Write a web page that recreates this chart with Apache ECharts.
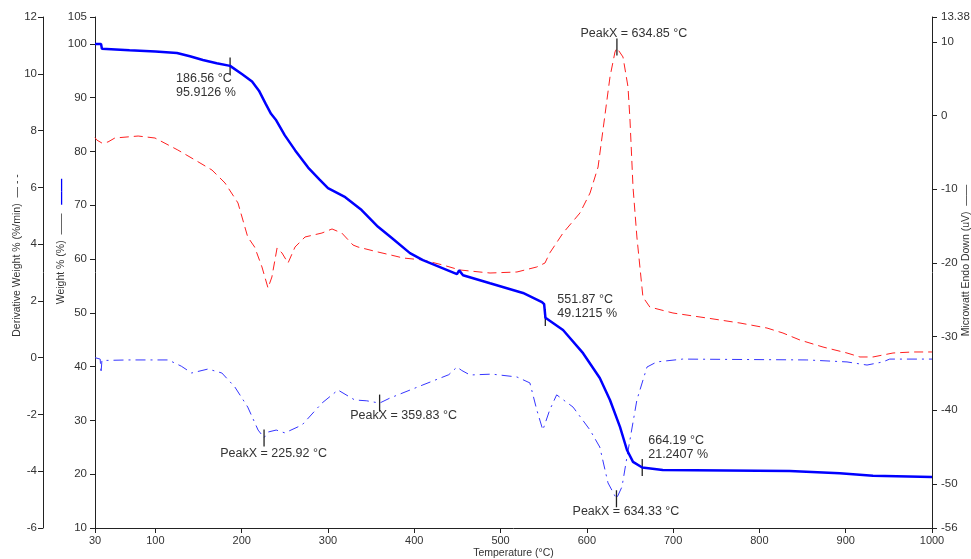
<!DOCTYPE html>
<html>
<head>
<meta charset="utf-8">
<script src="https://cdn.jsdelivr.net/npm/echarts@6/dist/echarts.min.js"></script>
<style>
  html, body { margin: 0; padding: 0; background: #fff; }
  #chart { width: 971px; height: 559px; }
</style>
</head>
<body>
<div id="chart"></div>
<script>
// tick labels
const xTicks = [30, 100, 200, 300, 400, 500, 600, 700, 800, 900, 1000];
const weightTicks = [10, 20, 30, 40, 50, 60, 70, 80, 90, 100, 105];
const derivTicks = [-6, -4, -2, 0, 2, 4, 6, 8, 10, 12];
const heatTicks = [-56, -50, -40, -30, -20, -10, 0, 10, 13.38];

// Weight % (solid blue)
const weightTemp = [30, 37, 38, 70, 100, 125, 140, 155, 171, 186.56, 201, 212, 220, 228, 234, 240, 250, 262, 277, 290, 300, 320, 339, 358, 374, 395, 410, 449.5, 452, 454, 456.5, 487.8, 526, 548, 550.5, 552, 572.4, 595.6, 615, 626.8, 638.4, 646.5, 653.5, 664.19, 688, 835, 893, 931.6, 1000];
const weightVal = [100, 100, 99.1, 98.8, 98.6, 98.3, 97.7, 97.0, 96.4, 95.91, 94.3, 93.0, 91.3, 88.8, 87.0, 85.8, 83.0, 80.2, 77.0, 74.8, 73.2, 71.5, 69.1, 66.0, 63.9, 61.1, 59.8, 57.2, 57.9, 57.7, 57.0, 55.5, 53.7, 52.0, 51.6, 49.1, 46.8, 42.5, 37.9, 33.8, 28.8, 24.5, 22.3, 21.24, 20.8, 20.6, 20.2, 19.7, 19.5];

// Derivative weight % (blue dash-dot)
const derivTemp = [30, 36, 37, 38, 68, 115, 130, 142, 161, 177, 192, 207, 219, 225.92, 230.5, 240, 250, 270, 293, 311.6, 331, 345, 359.83, 372, 410, 440, 449.5, 455, 464.6, 490, 519, 534, 542, 549, 557, 565, 584, 603.7, 615, 624.5, 634.33, 640.7, 646.5, 658, 669.7, 681, 711, 855, 901.5, 924.7, 943, 951, 1000];
const derivVal = [0.0, -0.05, -0.55, -0.1, -0.08, -0.08, -0.3, -0.54, -0.40, -0.54, -1.03, -1.74, -2.55, -2.82, -2.62, -2.55, -2.65, -2.37, -1.60, -1.14, -1.49, -1.52, -1.60, -1.42, -0.96, -0.6, -0.33, -0.45, -0.61, -0.58, -0.68, -0.89, -1.84, -2.55, -1.84, -1.31, -1.74, -2.55, -3.15, -4.41, -4.97, -4.55, -3.50, -1.49, -0.33, -0.15, -0.05, -0.08, -0.15, -0.26, -0.15, -0.05, -0.05];

// Microwatt Endo Down (red dashed)
const heatTemp = [30, 32, 38, 45, 53, 80, 99.5, 126, 146, 165.6, 180.7, 195.7, 207, 215, 223.5, 230.5, 235, 241, 246.7, 253.7, 261.8, 273.4, 293, 304.7, 316, 329, 334.8, 358, 377.7, 387, 410, 433, 453, 487.8, 519, 542, 551.5, 557, 572.4, 592, 603.7, 613, 618.7, 626.8, 632.6, 634.85, 641.9, 647.7, 650, 653.5, 658, 665, 673, 699.8, 739.2, 777.5, 808.8, 827.3, 847, 873.7, 901.5, 916.5, 931.6, 954.8, 978, 1000];
const heatVal = [-3.0, -3.32, -3.73, -3.59, -3.05, -2.78, -3.05, -4.68, -6.04, -7.40, -9.16, -11.87, -16.49, -17.85, -20.56, -23.41, -21.92, -17.98, -18.66, -20.02, -17.85, -16.49, -15.95, -15.40, -15.95, -17.58, -17.85, -18.53, -19.07, -19.34, -19.61, -20.29, -20.97, -21.38, -21.24, -20.56, -20.02, -18.66, -15.95, -13.23, -10.52, -6.99, -1.96, 5.23, 8.63, 9.17, 7.95, 3.88, -0.60, -9.70, -16.49, -24.64, -26.0, -26.81, -27.49, -28.17, -28.85, -29.53, -30.48, -31.43, -32.24, -32.78, -32.78, -32.24, -32.10, -32.10];

// annotations
const weightMarks = [[186.56, 95.9126], [551.87, 49.1215], [664.19, 21.2407]];
const derivPeaks = [[225.92, -2.83], [359.83, -1.60], [634.33, -4.97]];
const heatPeaks = [[634.85, 9.3]];

const zip = (a, b) => a.map((v, i) => [v, b[i]]);

const chart = echarts.init(document.getElementById('chart'));
const FONT = 'Liberation Sans, Arial, sans-serif';
const axisCol = '#222';
const labelStyle = { color: '#333', fontSize: 11.5, fontFamily: FONT, formatter: v => String(v) };
const markLabel = {
  show: true,
  position: 'inside',
  color: '#333',
  fontSize: 12.5,
  lineHeight: 14,
  fontFamily: FONT,
  verticalAlign: 'middle'
};
const markSymbol = { symbol: 'rect', symbolSize: [1.3, 17], itemStyle: { color: '#222' } };

const weightLabelOffsets = [[-54, 20], [12, -11], [6, -20]];
const derivLabelOffsets = [[9.5, 16], [24, 12], [9.5, 13]];
const heatLabelOffsets = [[17, -14]];

const option = {
  animation: false,
  backgroundColor: '#fff',
  grid: { left: 95, right: 39, top: 17, bottom: 31, outerBoundsMode: 'none', containLabel: false },
  xAxis: {
    type: 'value',
    min: 30,
    max: 1000,
    name: 'Temperature (°C)',
    nameLocation: 'middle',
    nameGap: 20,
    nameMoveOverlap: false,
    nameTextStyle: { color: '#333', fontSize: 10.5, fontFamily: FONT },
    axisLine: { show: true, onZero: false, lineStyle: { color: axisCol } },
    axisTick: { show: true, length: 5, customValues: xTicks, lineStyle: { color: axisCol } },
    axisLabel: { customValues: xTicks, margin: 7, fontSize: 11, color: '#333', fontFamily: FONT, formatter: v => String(v) },
    splitLine: { show: false }
  },
  yAxis: [
    {
      type: 'value',
      position: 'left',
      min: 10,
      max: 105,
      name: 'Weight % (%)  ——   {b|——}',
      nameLocation: 'middle',
      nameRotate: 90,
      nameGap: 27,
      nameMoveOverlap: false,
      nameTextStyle: {
        color: '#333', fontSize: 10.5, fontFamily: FONT, padding: [0, 0, 0, 62],
        rich: { b: { color: '#0000ff', fontSize: 13, fontWeight: 'bold' } }
      },
      axisLine: { show: true, onZero: false, lineStyle: { color: axisCol } },
      axisTick: { show: true, length: 5, customValues: weightTicks, lineStyle: { color: axisCol } },
      axisLabel: Object.assign({ customValues: weightTicks, margin: 8 }, labelStyle),
      splitLine: { show: false }
    },
    {
      type: 'value',
      position: 'left',
      offset: 52,
      min: -6,
      max: 12,
      name: 'Derivative Weight % (%/min)  — - -',
      nameLocation: 'middle',
      nameRotate: 90,
      nameGap: 20,
      nameMoveOverlap: false,
      nameTextStyle: { color: '#333', fontSize: 10.5, fontFamily: FONT, padding: [0, 0, 0, 34] },
      axisLine: { show: true, onZero: false, lineStyle: { color: axisCol } },
      axisTick: { show: true, length: 5, customValues: derivTicks, lineStyle: { color: axisCol } },
      axisLabel: Object.assign({ customValues: derivTicks, margin: 6 }, labelStyle),
      splitLine: { show: false }
    },
    {
      type: 'value',
      position: 'right',
      min: -56,
      max: 13.38,
      name: 'Microwatt Endo Down (uV)  ——',
      nameLocation: 'middle',
      nameRotate: 90,
      nameGap: 29,
      nameMoveOverlap: false,
      nameTextStyle: { color: '#333', fontSize: 10.5, fontFamily: FONT, padding: [0, 0, 0, 24] },
      axisLine: { show: true, onZero: false, lineStyle: { color: axisCol } },
      axisTick: { show: true, length: 5, customValues: heatTicks, lineStyle: { color: axisCol } },
      axisLabel: Object.assign({ customValues: heatTicks, margin: 9 }, labelStyle),
      splitLine: { show: false }
    }
  ],
  series: [
    {
      name: 'Heat Flow',
      type: 'line',
      yAxisIndex: 2,
      showSymbol: false,
      data: zip(heatTemp, heatVal),
      lineStyle: { color: '#ff2020', width: 1, type: [9, 5] },
      markPoint: Object.assign({}, markSymbol, {
        data: heatPeaks.map((c, i) => ({
          coord: c,
          label: Object.assign({}, markLabel, { align: 'center', offset: heatLabelOffsets[i], formatter: 'PeakX = ' + c[0].toFixed(2) + ' °C' })
        }))
      })
    },
    {
      name: 'Derivative Weight',
      type: 'line',
      yAxisIndex: 1,
      showSymbol: false,
      data: zip(derivTemp, derivVal),
      lineStyle: { color: '#3535ff', width: 1, type: [10, 5, 2, 5] },
      markPoint: Object.assign({}, markSymbol, {
        data: derivPeaks.map((c, i) => ({
          coord: c,
          label: Object.assign({}, markLabel, { align: 'center', offset: derivLabelOffsets[i], formatter: 'PeakX = ' + c[0].toFixed(2) + ' °C' })
        }))
      })
    },
    {
      name: 'Weight',
      type: 'line',
      yAxisIndex: 0,
      showSymbol: false,
      data: zip(weightTemp, weightVal),
      lineStyle: { color: '#0000ff', width: 2.5 },
      z: 5,
      markPoint: Object.assign({}, markSymbol, {
        data: weightMarks.map((c, i) => ({
          coord: c,
          label: Object.assign({}, markLabel, { align: 'left', offset: weightLabelOffsets[i], formatter: c[0].toFixed(2) + ' °C\n' + c[1].toFixed(4) + ' %' })
        }))
      })
    }
  ]
};
chart.setOption(option);
</script>
</body>
</html>
